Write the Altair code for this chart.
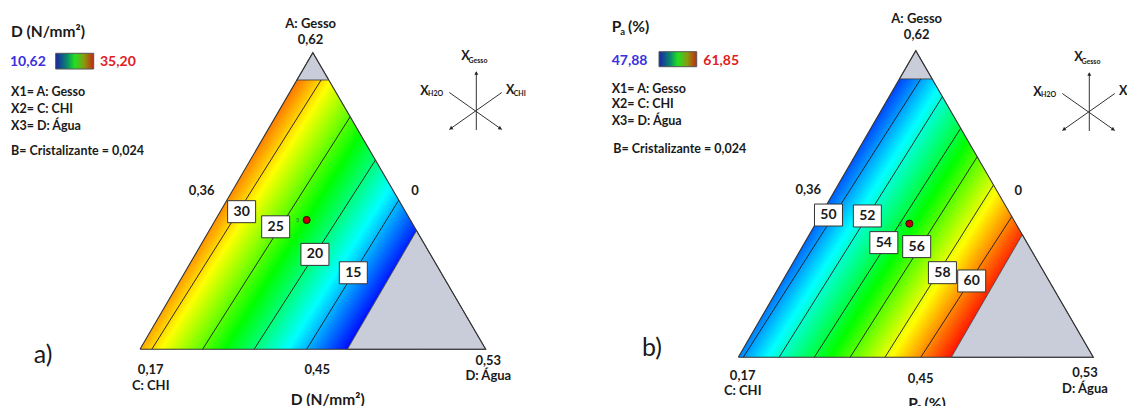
import math
import altair as alt
import pandas as pd

# ---------------- values ----------------
# Ternary pseudo-component coordinates: a = A: Gesso, d = D: Água (C: CHI = 1 - a - d)
LEVELS_A = [30, 25, 20, 15]
LINES_A_START_A = [0.0, 0.0, 0.0, 0.0]
LINES_A_START_D = [0.034, 0.181, 0.330, 0.482]
LINES_A_END_A = [0.908, 0.784, 0.638, 0.503]
LINES_A_END_D = [0.070, 0.216, 0.362, 0.497]
LABELS_A_A = [0.464, 0.413, 0.320, 0.258]
LABELS_A_D = [0.062, 0.186, 0.346, 0.488]

LEVELS_B = [50, 52, 54, 56, 58, 60]
LINES_B_START_A = [0.0, 0.0, 0.0, 0.0, 0.0, 0.0]
LINES_B_START_D = [0.014, 0.115, 0.214, 0.315, 0.413, 0.514]
LINES_B_END_A = [0.908, 0.850, 0.747, 0.654, 0.562, 0.459]
LINES_B_END_D = [0.060, 0.150, 0.253, 0.346, 0.438, 0.541]
LABELS_B_A = [0.464, 0.461, 0.374, 0.361, 0.276, 0.249]
LABELS_B_D = [0.022, 0.133, 0.223, 0.322, 0.437, 0.533]

RANGE_A = [10.62, 35.20]
RANGE_B = [47.88, 61.85]
GESSO_CAP = 0.908       # A: Gesso upper constraint (pseudo)
AGUA_MAX = 0.60         # D: Água upper constraint (pseudo)
DESIGN_A, DESIGN_D = 0.436, 0.264

# ---------------- layout (page pixels) ----------------
W_PAGE, H_PAGE = 1119, 398
PANELS = {"a": (140.0, 349.3, 345.7, 296.6), "b": (738.3, 357.3, 355.0, 306.6)}
FONT = "Lato"
INK = "#1a1a1a"
BLUE_T = "#3a30e0"
RED_T = "#e0201c"
GRAY = "#c9cdd9"

CMAP = [(0.0, (0, 0, 255)), (0.25, (0, 255, 255)), (0.5, (0, 255, 0)),
        (0.75, (255, 255, 0)), (1.0, (255, 0, 0))]


def cmap(t):
    t = min(1.0, max(0.0, t))
    for (t0, c0), (t1, c1) in zip(CMAP[:-1], CMAP[1:]):
        if t <= t1:
            f = (t - t0) / (t1 - t0)
            c = [round(c0[i] + (c1[i] - c0[i]) * f) for i in range(3)]
            return "#%02x%02x%02x" % tuple(c)
    return "#ff0000"


def tern(p, a, d):
    blx, bly, w, h = PANELS[p]
    return blx + w * (d + a / 2.0), bly - h * a


def poly_to_area(verts):
    xs = sorted(set(round(v[0], 4) for v in verts))
    rows = []
    n = len(verts)
    for x in xs:
        ys = []
        for i in range(n):
            (x1, y1), (x2, y2) = verts[i], verts[(i + 1) % n]
            if min(x1, x2) - 1e-3 <= x <= max(x1, x2) + 1e-3:
                if abs(x2 - x1) < 1e-6:
                    ys += [y1, y2]
                else:
                    ys.append(y1 + (y2 - y1) * (x - x1) / (x2 - x1))
        rows.append((x, min(ys), max(ys)))
    return rows


def pl(x, xp, fp):
    pairs = sorted(zip(xp, fp))
    xp = [p[0] for p in pairs]
    fp = [p[1] for p in pairs]
    if x <= xp[0]:
        i = 0
    elif x >= xp[-1]:
        i = len(xp) - 2
    else:
        i = max(j for j in range(len(xp) - 1) if xp[j] <= x)
    return fp[i] + (fp[i + 1] - fp[i]) * (x - xp[i]) / (xp[i + 1] - xp[i])


def field_gradient(verts, lines_px, levels, vmin, vmax):
    ex = ey = 0.0
    for (x1, y1), (x2, y2) in lines_px:
        L = math.hypot(x2 - x1, y2 - y1)
        ex += (x2 - x1) / L
        ey += (y2 - y1) / L
    L = math.hypot(ex, ey)
    ex, ey = ex / L, ey / L
    ux, uy = -ey, ex
    s_of = lambda x, y: ux * x + uy * y
    s_lines = [s_of((x1 + x2) / 2, (y1 + y2) / 2) for (x1, y1), (x2, y2) in lines_px]
    sv = [s_of(x, y) for x, y in verts]
    s0, s1 = min(sv), max(sv)
    cand = [s0, s1] + s_lines
    for k in (0.25, 0.5, 0.75):
        cand.append(pl(vmin + k * (vmax - vmin), levels, s_lines))
    cand = sorted(c for c in cand if s0 <= c <= s1)
    stops = []
    for s in cand:
        v = pl(s, s_lines, levels)
        stops.append(alt.GradientStop(offset=(s - s0) / (s1 - s0),
                                      color=cmap((v - vmin) / (vmax - vmin))))
    bx = min(v[0] for v in verts)
    by = min(v[1] for v in verts)
    bw = max(v[0] for v in verts) - bx
    bh = max(v[1] for v in verts) - by
    nx, ny = ux * bw, uy * bh
    c = ux * bx + uy * by
    nn = nx * nx + ny * ny
    b = (s0 - c) / nn
    al = (s1 - s0) / nn
    return alt.LinearGradient(gradient="linear", stops=stops,
                              x1=b * nx, y1=b * ny,
                              x2=(b + al) * nx, y2=(b + al) * ny)


XS = alt.Scale(domain=[8, 8 + W_PAGE], nice=False, zero=False)
YS = alt.Scale(domain=[8, 8 + H_PAGE], nice=False, zero=False, reverse=True)


def X(f="x"):
    return alt.X(f"{f}:Q", scale=XS, axis=None)


def Y(f="y"):
    return alt.Y(f"{f}:Q", scale=YS, axis=None)


layers = []
gray_rows, outline_rows, line_rows, box_rows, dot_rows = [], [], [], [], []

panel_data = {
    "a": (LEVELS_A, LINES_A_START_A, LINES_A_START_D, LINES_A_END_A, LINES_A_END_D,
          LABELS_A_A, LABELS_A_D, RANGE_A),
    "b": (LEVELS_B, LINES_B_START_A, LINES_B_START_D, LINES_B_END_A, LINES_B_END_D,
          LABELS_B_A, LABELS_B_D, RANGE_B),
}

for p, (lev, sa, sd, ea, ed, la, ld, rng) in panel_data.items():
    feas = [tern(p, 0, 0), tern(p, GESSO_CAP, 0), tern(p, GESSO_CAP, 1 - GESSO_CAP),
            tern(p, 1 - AGUA_MAX, AGUA_MAX), tern(p, 0, AGUA_MAX)]
    lines_px = [(tern(p, sa[i], sd[i]), tern(p, ea[i], ed[i])) for i in range(len(lev))]
    grad = field_gradient(feas, lines_px, lev, rng[0], rng[1])
    fdf = pd.DataFrame(poly_to_area(feas), columns=["x", "y", "y2"])
    layers.append(alt.Chart(fdf).mark_area(color=grad, interpolate="linear").encode(
        x=X(), y=Y(), y2="y2:Q"))

    caps = [tern(p, GESSO_CAP, 0), tern(p, 1, 0), tern(p, GESSO_CAP, 1 - GESSO_CAP)]
    corner = [tern(p, 0, AGUA_MAX), tern(p, 1 - AGUA_MAX, AGUA_MAX), tern(p, 0, 1)]
    for name, poly in (("cap", caps), ("corner", corner)):
        for x, y, y2 in poly_to_area(poly):
            gray_rows.append({"poly": p + name, "x": x, "y": y, "y2": y2})

    for k, (a, d) in enumerate([(0, 0), (1, 0), (0, 1), (0, 0)]):
        x, y = tern(p, a, d)
        outline_rows.append({"panel": p, "k": k, "x": x, "y": y})

    for i, l in enumerate(lev):
        for k, (a, d) in enumerate([(sa[i], sd[i]), (ea[i], ed[i])]):
            x, y = tern(p, a, d)
            line_rows.append({"line": f"{p}{l}", "k": k, "x": x, "y": y})
        x, y = tern(p, la[i], ld[i])
        box_rows.append({"x": x - 14, "x2": x + 14, "y": y - 11, "y2": y + 11,
                         "xc": x, "yc": y, "text": str(l)})

    x, y = tern(p, DESIGN_A, DESIGN_D)
    dot_rows.append({"x": x, "y": y, "xl": x - 9, "text": "5"})

layers.append(alt.Chart(pd.DataFrame(gray_rows)).mark_area(
    fill=GRAY, stroke="#3a3a3a", strokeWidth=0.8, interpolate="linear").encode(
    x=X(), y=Y(), y2="y2:Q", detail="poly:N"))
layers.append(alt.Chart(pd.DataFrame(line_rows)).mark_line(
    color="#1a1a1a", strokeWidth=0.9).encode(
    x=X(), y=Y(), detail="line:N", order="k:Q"))
layers.append(alt.Chart(pd.DataFrame(outline_rows)).mark_line(
    color="#333333", strokeWidth=1.1).encode(
    x=X(), y=Y(), detail="panel:N", order="k:Q"))

bdf = pd.DataFrame(box_rows)
layers.append(alt.Chart(bdf).mark_rect(fill="white", stroke="#333333", strokeWidth=1).encode(
    x=X("x"), x2="x2:Q", y=Y("y"), y2="y2:Q"))
layers.append(alt.Chart(bdf).mark_text(font=FONT, fontWeight="bold", fontSize=14,
                                       color=INK, baseline="middle", align="center").encode(
    x=X("xc"), y=Y("yc"), text="text:N"))

ddf = pd.DataFrame(dot_rows)
layers.append(alt.Chart(ddf).mark_point(filled=True, fill="#c00000", stroke="#3a0000",
                                        strokeWidth=1, size=50, opacity=1).encode(
    x=X(), y=Y()))
layers.append(alt.Chart(ddf).mark_text(font=FONT, fontSize=6, color="#555555",
                                       baseline="middle", align="center").encode(
    x=X("xl"), y=Y(), text="text:N"))

# colour bars of the legends
cb = pd.DataFrame([{"x": 55.7, "x2": 93.7, "y": 53.3, "y2": 69.0},
                   {"x": 659.0, "x2": 696.7, "y": 51.7, "y2": 66.7}])
cb_grad = alt.LinearGradient(gradient="linear", x1=0, x2=1, y1=0, y2=0, stops=[
    alt.GradientStop(offset=0, color="#1a22a8"),
    alt.GradientStop(offset=0.3, color="#0a8a6a"),
    alt.GradientStop(offset=0.5, color="#22e022"),
    alt.GradientStop(offset=0.75, color="#8a9a10"),
    alt.GradientStop(offset=1, color="#c42810")])
layers.append(alt.Chart(cb).mark_rect(color=cb_grad, stroke="#555555", strokeWidth=1).encode(
    x=X("x"), x2="x2:Q", y=Y("y"), y2="y2:Q"))

# axis-direction symbols
SYM = [(476.3, 111.0), (1089.3, 112.0)]
sym_lines, sym_heads, sym_text = [], [], []
for j, (cx, cy) in enumerate(SYM):
    segs = [((0, 19), (0, -39)), ((-27, -18.5), (25.5, 18.5)), ((25.5, -18.5), (-27, 18.5))]
    for i, (s, e) in enumerate(segs):
        sym_lines.append({"id": f"{j}{i}", "k": 0, "x": cx + s[0], "y": cy + s[1]})
        sym_lines.append({"id": f"{j}{i}", "k": 1, "x": cx + e[0], "y": cy + e[1]})
    sym_heads += [{"x": cx, "y": cy - 38, "ang": 0},
                  {"x": cx + 24, "y": cy + 17.5, "ang": 125},
                  {"x": cx - 25.5, "y": cy + 17.5, "ang": 235}]
    sym_text += [(cx - 15, cy - 55, "X", 12.5), (cx - 7.8, cy - 50, "Gesso", 7),
                 (cx - 56, cy - 20, "X", 12.5), (cx - 48.2, cy - 17, "H2O", 7),
                 (cx + 29.7, cy - 21, "X", 12.5), (cx + 37.4, cy - 17, "CHI", 7)]

layers.append(alt.Chart(pd.DataFrame(sym_lines)).mark_line(color="#333333", strokeWidth=1).encode(
    x=X(), y=Y(), detail="id:N", order="k:Q"))
layers.append(alt.Chart(pd.DataFrame(sym_heads)).mark_point(
    shape="triangle-up", filled=True, color="#222222", size=16, opacity=1).encode(
    x=X(), y=Y(), angle=alt.Angle("ang:Q", scale=None)))

# texts: (x, y, text, size, color)
left_bold = [
    (11, 32, "D (N/mm²)", 15.5, INK),
    (10, 62, "10,62", 14, BLUE_T),
    (100, 62, "35,20", 14, RED_T),
    (11, 92, "X1= A: Gesso", 12.5, INK),
    (11, 109, "X2= C: CHI", 12.5, INK),
    (11, 126, "X3= D: Água", 12.5, INK),
    (11, 151, "B= Cristalizante = 0,024", 12.5, INK),
    (611.7, 26.7, "P", 15.5, INK),
    (620.3, 31.5, "a", 9.5, INK),
    (628, 26.7, "(%)", 15.5, INK),
    (611.7, 61, "47,88", 14, BLUE_T),
    (703.3, 61, "61,85", 14, RED_T),
    (611.7, 88.7, "X1= A: Gesso", 12.5, INK),
    (611.7, 104.3, "X2= C: CHI", 12.5, INK),
    (611.7, 121, "X3= D: Água", 12.5, INK),
    (613.3, 148.7, "B= Cristalizante = 0,024", 12.5, INK),
    (908.3, 404, "P", 15.5, INK),
    (917, 407, "a", 9.5, INK),
    (924.5, 404, "(%)", 15.5, INK),
] + [(x, y, t, s, INK) for x, y, t, s in sym_text]

center_bold = [
    (310.7, 24, "A: Gesso", 13), (310.5, 40, "0,62", 13),
    (201.7, 191, "0,36", 13), (415, 191, "0", 13),
    (150.7, 370, "0,17", 13), (150.7, 386, "C: CHI", 13),
    (317.3, 369.5, "0,45", 13), (488.3, 361, "0,53", 13), (488.3, 376, "D: Água", 13),
    (327.7, 400, "D (N/mm²)", 15.5),
    (916.7, 19, "A: Gesso", 13), (916.7, 34.7, "0,62", 13),
    (808.3, 190, "0,36", 13), (1018.3, 190.7, "0", 13),
    (742.7, 376, "0,17", 13), (742.7, 390.7, "C: CHI", 13),
    (920.7, 379.3, "0,45", 13), (1085, 373.3, "0,53", 13), (1085, 389.3, "D: Água", 13),
]
center_regular = [(43, 355, "a)", 25), (652, 348, "b)", 25)]

tl = pd.DataFrame(left_bold, columns=["x", "y", "text", "size", "color"])
layers.append(alt.Chart(tl).mark_text(font=FONT, fontWeight="bold", align="left",
                                      baseline="middle").encode(
    x=X(), y=Y(), text="text:N", size=alt.Size("size:Q", scale=None),
    color=alt.Color("color:N", scale=None)))
tc = pd.DataFrame(center_bold, columns=["x", "y", "text", "size"])
layers.append(alt.Chart(tc).mark_text(font=FONT, fontWeight="bold", align="center",
                                      baseline="middle", color=INK).encode(
    x=X(), y=Y(), text="text:N", size=alt.Size("size:Q", scale=None)))
tr = pd.DataFrame(center_regular, columns=["x", "y", "text", "size"])
layers.append(alt.Chart(tr).mark_text(font=FONT, align="center",
                                      baseline="middle", color=INK).encode(
    x=X(), y=Y(), text="text:N", size=alt.Size("size:Q", scale=None)))

chart = alt.layer(*layers).properties(
    width=W_PAGE, height=H_PAGE, autosize=alt.AutoSizeParams(type="none"),
    padding=0, background="white"
).configure_view(strokeOpacity=0)

chart.save("out.html", embed_options={"renderer": "svg", "actions": False})
